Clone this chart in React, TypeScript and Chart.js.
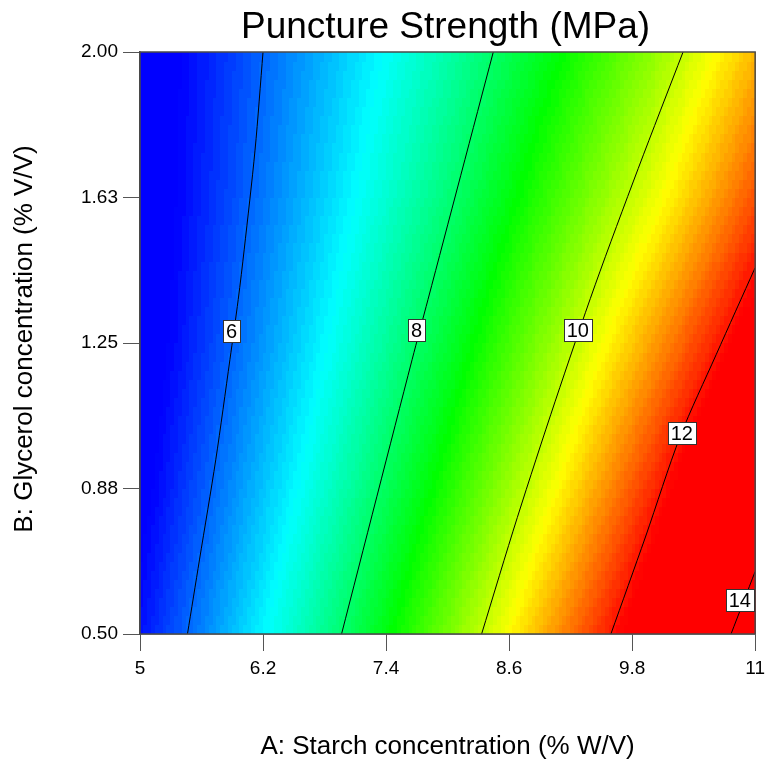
import React, { useEffect, useRef } from "react";
import { Chart, registerables } from "chart.js";

Chart.register(...registerables);

// ---- Data ----
const titleText = "Puncture Strength (MPa)";
const xTitle = "A: Starch concentration (% W/V)";
const yTitle = "B: Glycerol concentration (% V/V)";

const xTicks = [5, 6.2, 7.4, 8.6, 9.8, 11];
const xTickLabels = ["5", "6.2", "7.4", "8.6", "9.8", "11"];
const yTicks = [0.5, 0.875, 1.25, 1.625, 2.0];
const yTickLabels = ["0.50", "0.88", "1.25", "1.63", "2.00"];

// Surface values (response) on a coarse grid
const xGrid = [5, 6, 7, 8, 9, 10, 11];
const yGrid = [0.5, 0.875, 1.25, 1.625, 2.0];
const zRow050 = [5.42, 6.72, 8.05, 9.51, 11.06, 12.62, 14.41];
const zRow088 = [5.17, 6.38, 7.6, 8.93, 10.34, 11.86, 13.45];
const zRow125 = [5.01, 6.11, 7.23, 8.4, 9.7, 11.07, 12.47];
const zRow163 = [4.98, 5.93, 6.93, 7.94, 9.1, 10.29, 11.6];
const zRow200 = [4.98, 5.83, 6.71, 7.6, 8.6, 9.68, 10.91];

// Contour lines
const contour6X = [6.2, 6.122, 6.016, 5.958, 5.877, 5.739, 5.58, 5.463];
const contour6Y = [2.0, 1.747, 1.49, 1.362, 1.207, 0.949, 0.691, 0.5];
const contour8X = [8.446, 7.809, 7.654, 6.966];
const contour8Y = [2.0, 1.362, 1.207, 0.5];
const contour10X = [10.297, 9.86, 9.44, 9.05, 8.68, 8.332];
const contour10Y = [2.0, 1.7, 1.4, 1.1, 0.8, 0.5];
const contour12X = [11.0, 10.62, 10.27, 9.93, 9.593];
const contour12Y = [1.444, 1.22, 1.01, 0.75, 0.5];
const contour14X = [11.0, 10.765];
const contour14Y = [0.661, 0.5];

// Contour labels
const labelTexts = ["6", "8", "10", "12", "14"];
const labelX = [5.894, 7.697, 9.27, 10.285, 10.85];
const labelY = [1.281, 1.284, 1.284, 1.017, 0.587];

// Colour map (value -> colour)
const colorValues = [5.3, 7.0, 8.7, 10.4, 12.1];
const colorRGB = [
  [0, 0, 255],
  [0, 255, 255],
  [0, 255, 0],
  [255, 255, 0],
  [255, 0, 0],
];
const colorStep = 0.075;

const FONT = "'Liberation Sans', Arial, sans-serif";

const zRows = [zRow050, zRow088, zRow125, zRow163, zRow200];

function findIdx(arr: number[], v: number) {
  let i = 0;
  while (i < arr.length - 2 && v > arr[i + 1]) i++;
  return i;
}

function surface(x: number, y: number) {
  const i = findIdx(xGrid, x);
  const j = findIdx(yGrid, y);
  const tx = (x - xGrid[i]) / (xGrid[i + 1] - xGrid[i]);
  const ty = (y - yGrid[j]) / (yGrid[j + 1] - yGrid[j]);
  const a = zRows[j][i] * (1 - tx) + zRows[j][i + 1] * tx;
  const b = zRows[j + 1][i] * (1 - tx) + zRows[j + 1][i + 1] * tx;
  return a * (1 - ty) + b * ty;
}

function colorFor(v: number) {
  const q = Math.floor(v / colorStep) * colorStep;
  if (q <= colorValues[0]) return `rgb(${colorRGB[0].join(",")})`;
  const n = colorValues.length;
  if (q >= colorValues[n - 1]) return `rgb(${colorRGB[n - 1].join(",")})`;
  let k = 0;
  while (q > colorValues[k + 1]) k++;
  const t = (q - colorValues[k]) / (colorValues[k + 1] - colorValues[k]);
  const c = colorRGB[k].map((c0, m) => Math.round(c0 + (colorRGB[k + 1][m] - c0) * t));
  return `rgb(${c.join(",")})`;
}

const zip = (xs: number[], ys: number[]) => xs.map((x, i) => ({ x, y: ys[i] }));

const surfacePlugin = {
  id: "surfaceFill",
  beforeDatasetsDraw(chart: any) {
    const { ctx, scales } = chart;
    const xs = scales.x;
    const ys = scales.y;
    const NX = 160;
    const NY = 64;
    ctx.save();
    for (let i = 0; i < NX; i++) {
      const x0 = xs.min + ((xs.max - xs.min) * i) / NX;
      const x1 = xs.min + ((xs.max - xs.min) * (i + 1)) / NX;
      const px0 = Math.floor(xs.getPixelForValue(x0));
      const px1 = Math.ceil(xs.getPixelForValue(x1));
      for (let j = 0; j < NY; j++) {
        const y0 = ys.min + ((ys.max - ys.min) * j) / NY;
        const y1 = ys.min + ((ys.max - ys.min) * (j + 1)) / NY;
        const py0 = Math.ceil(ys.getPixelForValue(y0));
        const py1 = Math.floor(ys.getPixelForValue(y1));
        const v = surface((x0 + x1) / 2, (y0 + y1) / 2);
        ctx.fillStyle = colorFor(v);
        ctx.fillRect(px0, py1, px1 - px0, py0 - py1);
      }
    }
    ctx.restore();
  },
  afterDatasetsDraw(chart: any) {
    const { ctx, chartArea, scales } = chart;
    ctx.save();
    // frame
    ctx.strokeStyle = "#4a4a4a";
    ctx.lineWidth = 1.5;
    ctx.strokeRect(chartArea.left, chartArea.top, chartArea.right - chartArea.left, chartArea.bottom - chartArea.top);
    // contour labels
    ctx.font = `20px ${FONT}`;
    ctx.textAlign = "center";
    ctx.textBaseline = "middle";
    labelTexts.forEach((t, i) => {
      const px = scales.x.getPixelForValue(labelX[i]);
      const py = scales.y.getPixelForValue(labelY[i]);
      const w = ctx.measureText(t).width + 6;
      const h = 22;
      ctx.fillStyle = "#ffffff";
      ctx.fillRect(Math.round(px - w / 2) + 0.5, Math.round(py - h / 2) + 0.5, Math.round(w), h);
      ctx.strokeStyle = "#333";
      ctx.lineWidth = 1;
      ctx.strokeRect(Math.round(px - w / 2) + 0.5, Math.round(py - h / 2) + 0.5, Math.round(w), h);
      ctx.fillStyle = "#000";
      ctx.fillText(t, px, py + 1.5);
    });
    ctx.restore();
  },
  afterDraw(chart: any) {
    const { ctx, chartArea } = chart;
    const cx = (chartArea.left + chartArea.right) / 2;
    ctx.save();
    ctx.fillStyle = "#000";
    ctx.textAlign = "center";
    ctx.textBaseline = "alphabetic";
    ctx.font = `37px ${FONT}`;
    ctx.fillText(titleText, cx - 2, 38);
    ctx.font = `26px ${FONT}`;
    ctx.fillText(xTitle, cx, 754);
    ctx.translate(32, (chartArea.top + chartArea.bottom) / 2 - 4);
    ctx.rotate(-Math.PI / 2);
    ctx.fillText(yTitle, 0, 0);
    ctx.restore();
  },
};

export default function App() {
  const ref = useRef<HTMLCanvasElement | null>(null);
  useEffect(() => {
    if (!ref.current) return;
    const lineStyle = {
      showLine: true,
      borderColor: "#000",
      borderWidth: 1,
      pointRadius: 0,
      fill: false,
      tension: 0.3,
    };
    const chart = new Chart(ref.current, {
      type: "scatter",
      data: {
        datasets: [
          { ...lineStyle, label: "6", data: zip(contour6X, contour6Y) },
          { ...lineStyle, label: "8", data: zip(contour8X, contour8Y) },
          { ...lineStyle, label: "10", data: zip(contour10X, contour10Y) },
          { ...lineStyle, label: "12", data: zip(contour12X, contour12Y) },
          { ...lineStyle, label: "14", data: zip(contour14X, contour14Y) },
        ] as any,
      },
      options: {
        animation: false,
        responsive: false,
        devicePixelRatio: 1,
        layout: { padding: { top: 52, right: 12.5, left: 0, bottom: 0 } },
        plugins: {
          legend: { display: false },
          tooltip: { enabled: false },
          title: { display: false },
        },
        scales: {
          x: {
            type: "linear",
            min: 5,
            max: 11,
            afterBuildTicks: (s: any) => {
              s.ticks = xTicks.map((v) => ({ value: v }));
            },
            afterFit: (s: any) => {
              s.height = 126;
            },
            ticks: {
              autoSkip: false,
              maxRotation: 0,
              padding: 6,
              color: "#000",
              font: { family: FONT, size: 19 },
              callback: (_v: any, i: number) => xTickLabels[i],
            },
            grid: { drawOnChartArea: false, drawTicks: true, tickLength: 17, color: "#555" },
            border: { display: true, color: "#4a4a4a", width: 1.5 },
          },
          y: {
            type: "linear",
            min: 0.5,
            max: 2.0,
            afterBuildTicks: (s: any) => {
              s.ticks = yTicks.map((v) => ({ value: v }));
            },
            afterFit: (s: any) => {
              s.width = 140;
            },
            ticks: {
              autoSkip: false,
              padding: 5,
              color: "#000",
              font: { family: FONT, size: 19 },
              callback: (_v: any, i: number) => yTickLabels[i],
            },
            grid: { drawOnChartArea: false, drawTicks: true, tickLength: 17, color: "#555" },
            border: { display: true, color: "#4a4a4a", width: 1.5 },
          },
        },
      } as any,
      plugins: [surfacePlugin],
    });
    return () => chart.destroy();
  }, []);
  return (
    <div style={{ position: "absolute", left: 0, top: 0, width: 771, height: 760, background: "#fff" }}>
      <canvas ref={ref} width={771} height={760} style={{ display: "block" }} />
    </div>
  );
}
